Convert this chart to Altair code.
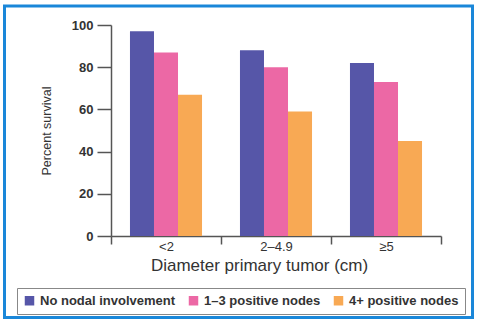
import altair as alt
import pandas as pd

categories = ["<2", "2–4.9", "≥5"]
series = ["No nodal involvement", "1–3 positive nodes", "4+ positive nodes"]
no_nodal = [97, 88, 82]
nodes_1_3 = [87, 80, 73]
nodes_4p = [67, 59, 45]
colors = ["#5656a8", "#ec68a5", "#f8a954"]

rows = []
for i, c in enumerate(categories):
    for s, vals in zip(series, [no_nodal, nodes_1_3, nodes_4p]):
        rows.append({"diam": c, "group": s, "value": vals[i]})
df = pd.DataFrame(rows)

bars = alt.Chart(df).mark_bar().encode(
    x=alt.X("diam:N", sort=categories,
            scale=alt.Scale(paddingInner=0, paddingOuter=0),
            axis=alt.Axis(title="Diameter primary tumor (cm)", labelAngle=0,
                          tickBand="extent", tickSize=8, labelFontSize=13,
                          labelPadding=-4, titleFontSize=17, titleFontWeight="normal",
                          titleX=148, titleAlign="center", titlePadding=4)),
    xOffset=alt.XOffset("group:N", sort=series,
                        scale=alt.Scale(paddingInner=0, paddingOuter=0.79)),
    y=alt.Y("value:Q", scale=alt.Scale(domain=[0, 100]),
            axis=alt.Axis(title="Percent survival", values=[0, 20, 40, 60, 80, 100],
                          tickSize=14, labelFontSize=13, labelFontWeight="bold",
                          labelPadding=4, titleFontSize=12.5, titleFontWeight="normal",
                          titlePadding=18, grid=False)),
    color=alt.Color("group:N", sort=series,
                    scale=alt.Scale(domain=series, range=colors),
                    legend=alt.Legend(title=None, orient="none", direction="horizontal",
                                      legendX=-94, legendY=263, labelFontSize=13,
                                      labelFontWeight="bold", symbolType="square",
                                      symbolSize=90, columnPadding=11, padding=6,
                                      labelOffset=4,
                                      strokeColor="#888", fillColor="white",
                                      symbolStrokeWidth=0, labelColor="#333",
                                      symbolOpacity=1)),
)

frame = alt.Chart(pd.DataFrame({"f": [0]})).mark_rect(
    fill=None, stroke="#1a87d9", strokeWidth=3
).encode(
    x=alt.value(-106.5), y=alt.value(-19), x2=alt.value(361.5), y2=alt.value(292.5)
)

chart = alt.layer(bars, frame).properties(
    width=330, height=211,
    autosize=alt.AutoSizeParams(type="none"),
    padding={"left": 111, "top": 25, "right": 39, "bottom": 87},
    background="white",
).configure_view(stroke=None).configure_axis(
    domainColor="#555", tickColor="#555", domainWidth=1.5, tickWidth=1.5,
    labelColor="#333", titleColor="#333", labelFont="Liberation Sans",
    titleFont="Liberation Sans"
).configure_legend(labelFont="Liberation Sans")

chart.save("out.html", embed_options={"renderer": "svg", "actions": False})
